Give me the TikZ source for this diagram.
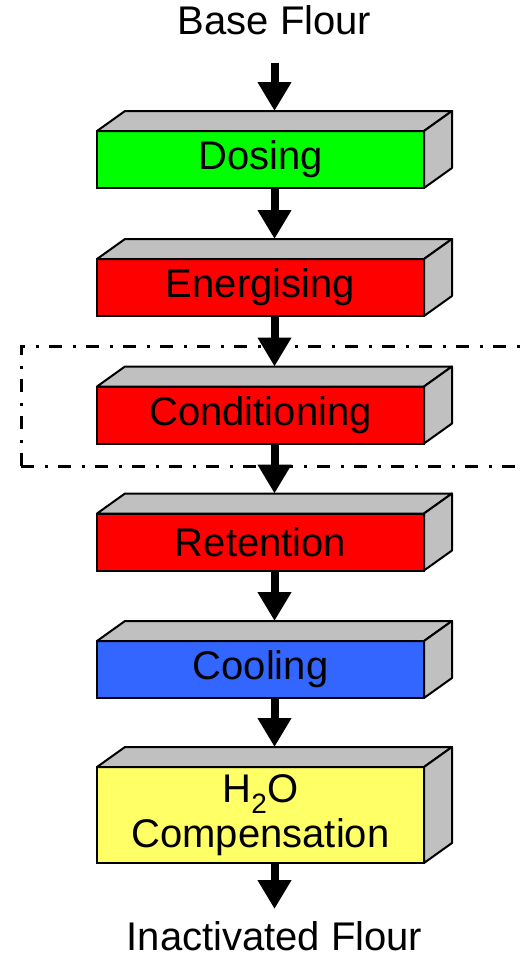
\documentclass[tikz,border=0pt]{standalone}
\usepackage{fontspec}
\setmainfont{Liberation Sans}
\usetikzlibrary{arrows.meta}

\definecolor{dosgreen}{HTML}{00FF00}
\definecolor{hotred}{HTML}{FF0000}
\definecolor{coolblue}{HTML}{3366FF}
\definecolor{waterylw}{HTML}{FFFF66}
\definecolor{facegray}{HTML}{C0C0C0}

\tikzset{
  stage/.style={draw, line width=2pt, outer sep=0pt, inner sep=0pt,
    minimum width=327pt, minimum height=57pt, align=center,
    font=\fontsize{40}{44}\selectfont},
  face/.style={draw, fill=facegray, line width=2pt, line join=round},
  flow/.style={-{Triangle[width=32pt,length=29pt]}, line width=8pt},
  endtext/.style={inner sep=0pt, outer sep=0pt, anchor=base,
    font=\fontsize{40}{44}\selectfont},
  zone/.style={line width=3pt, dash pattern=on 13pt off 10.5pt on 3pt off 10.5pt}
}

\begin{document}
\begin{tikzpicture}[x=1pt, y=-1pt]
    \useasboundingbox (0,0) rectangle (523,954);
    \draw[zone] (21,466) -- (21,346) -- (530,346);
    \draw[zone] (21,466) -- (530,466);
    \node[endtext] (base) at (274.5,34) {Base Flour};
    \node[stage, fill=dosgreen] (dos) at (260.5,159.5) {Dosing};
    \node[stage, fill=hotred] (ene) at (260.5,287.5) {Energising};
    \node[stage, fill=hotred] (con) at (260.5,415) {Conditioning};
    \node[stage, fill=hotred] (ret) at (260.5,542) {Retention};
    \node[stage, fill=coolblue] (coo) at (260.5,669.5) {Cooling};
    \node[stage, fill=waterylw, minimum height=96pt] (hoc) at (260.5,815) {H\textsubscript{2}O\\[1pt]Compensation};
    \node[endtext] (out) at (274.5,950) {Inactivated Flour};
    % top and side faces of each block
    \foreach \s in {dos,ene,con,ret,coo,hoc} {
        \filldraw[face] (\s.north west) -- ++(28,-20) -- ([shift={(28,-20)}]\s.north east) -- (\s.north east) -- cycle;
        \filldraw[face] (\s.north east) -- ++(28,-20) -- ([shift={(28,-20)}]\s.south east) -- (\s.south east) -- cycle;
    }
    \draw[flow, shorten <=29pt] (base.south) -- ([xshift=14pt,yshift=20pt]dos.north);
    \foreach \a/\b in {dos/ene, ene/con, con/ret, ret/coo, coo/hoc}
        \draw[flow] ([xshift=14pt]\a.south) -- ([xshift=14pt,yshift=20pt]\b.north);
    \draw[flow, shorten >=12pt] ([xshift=14pt]hoc.south) -- (out.north);
\end{tikzpicture}
\end{document}
